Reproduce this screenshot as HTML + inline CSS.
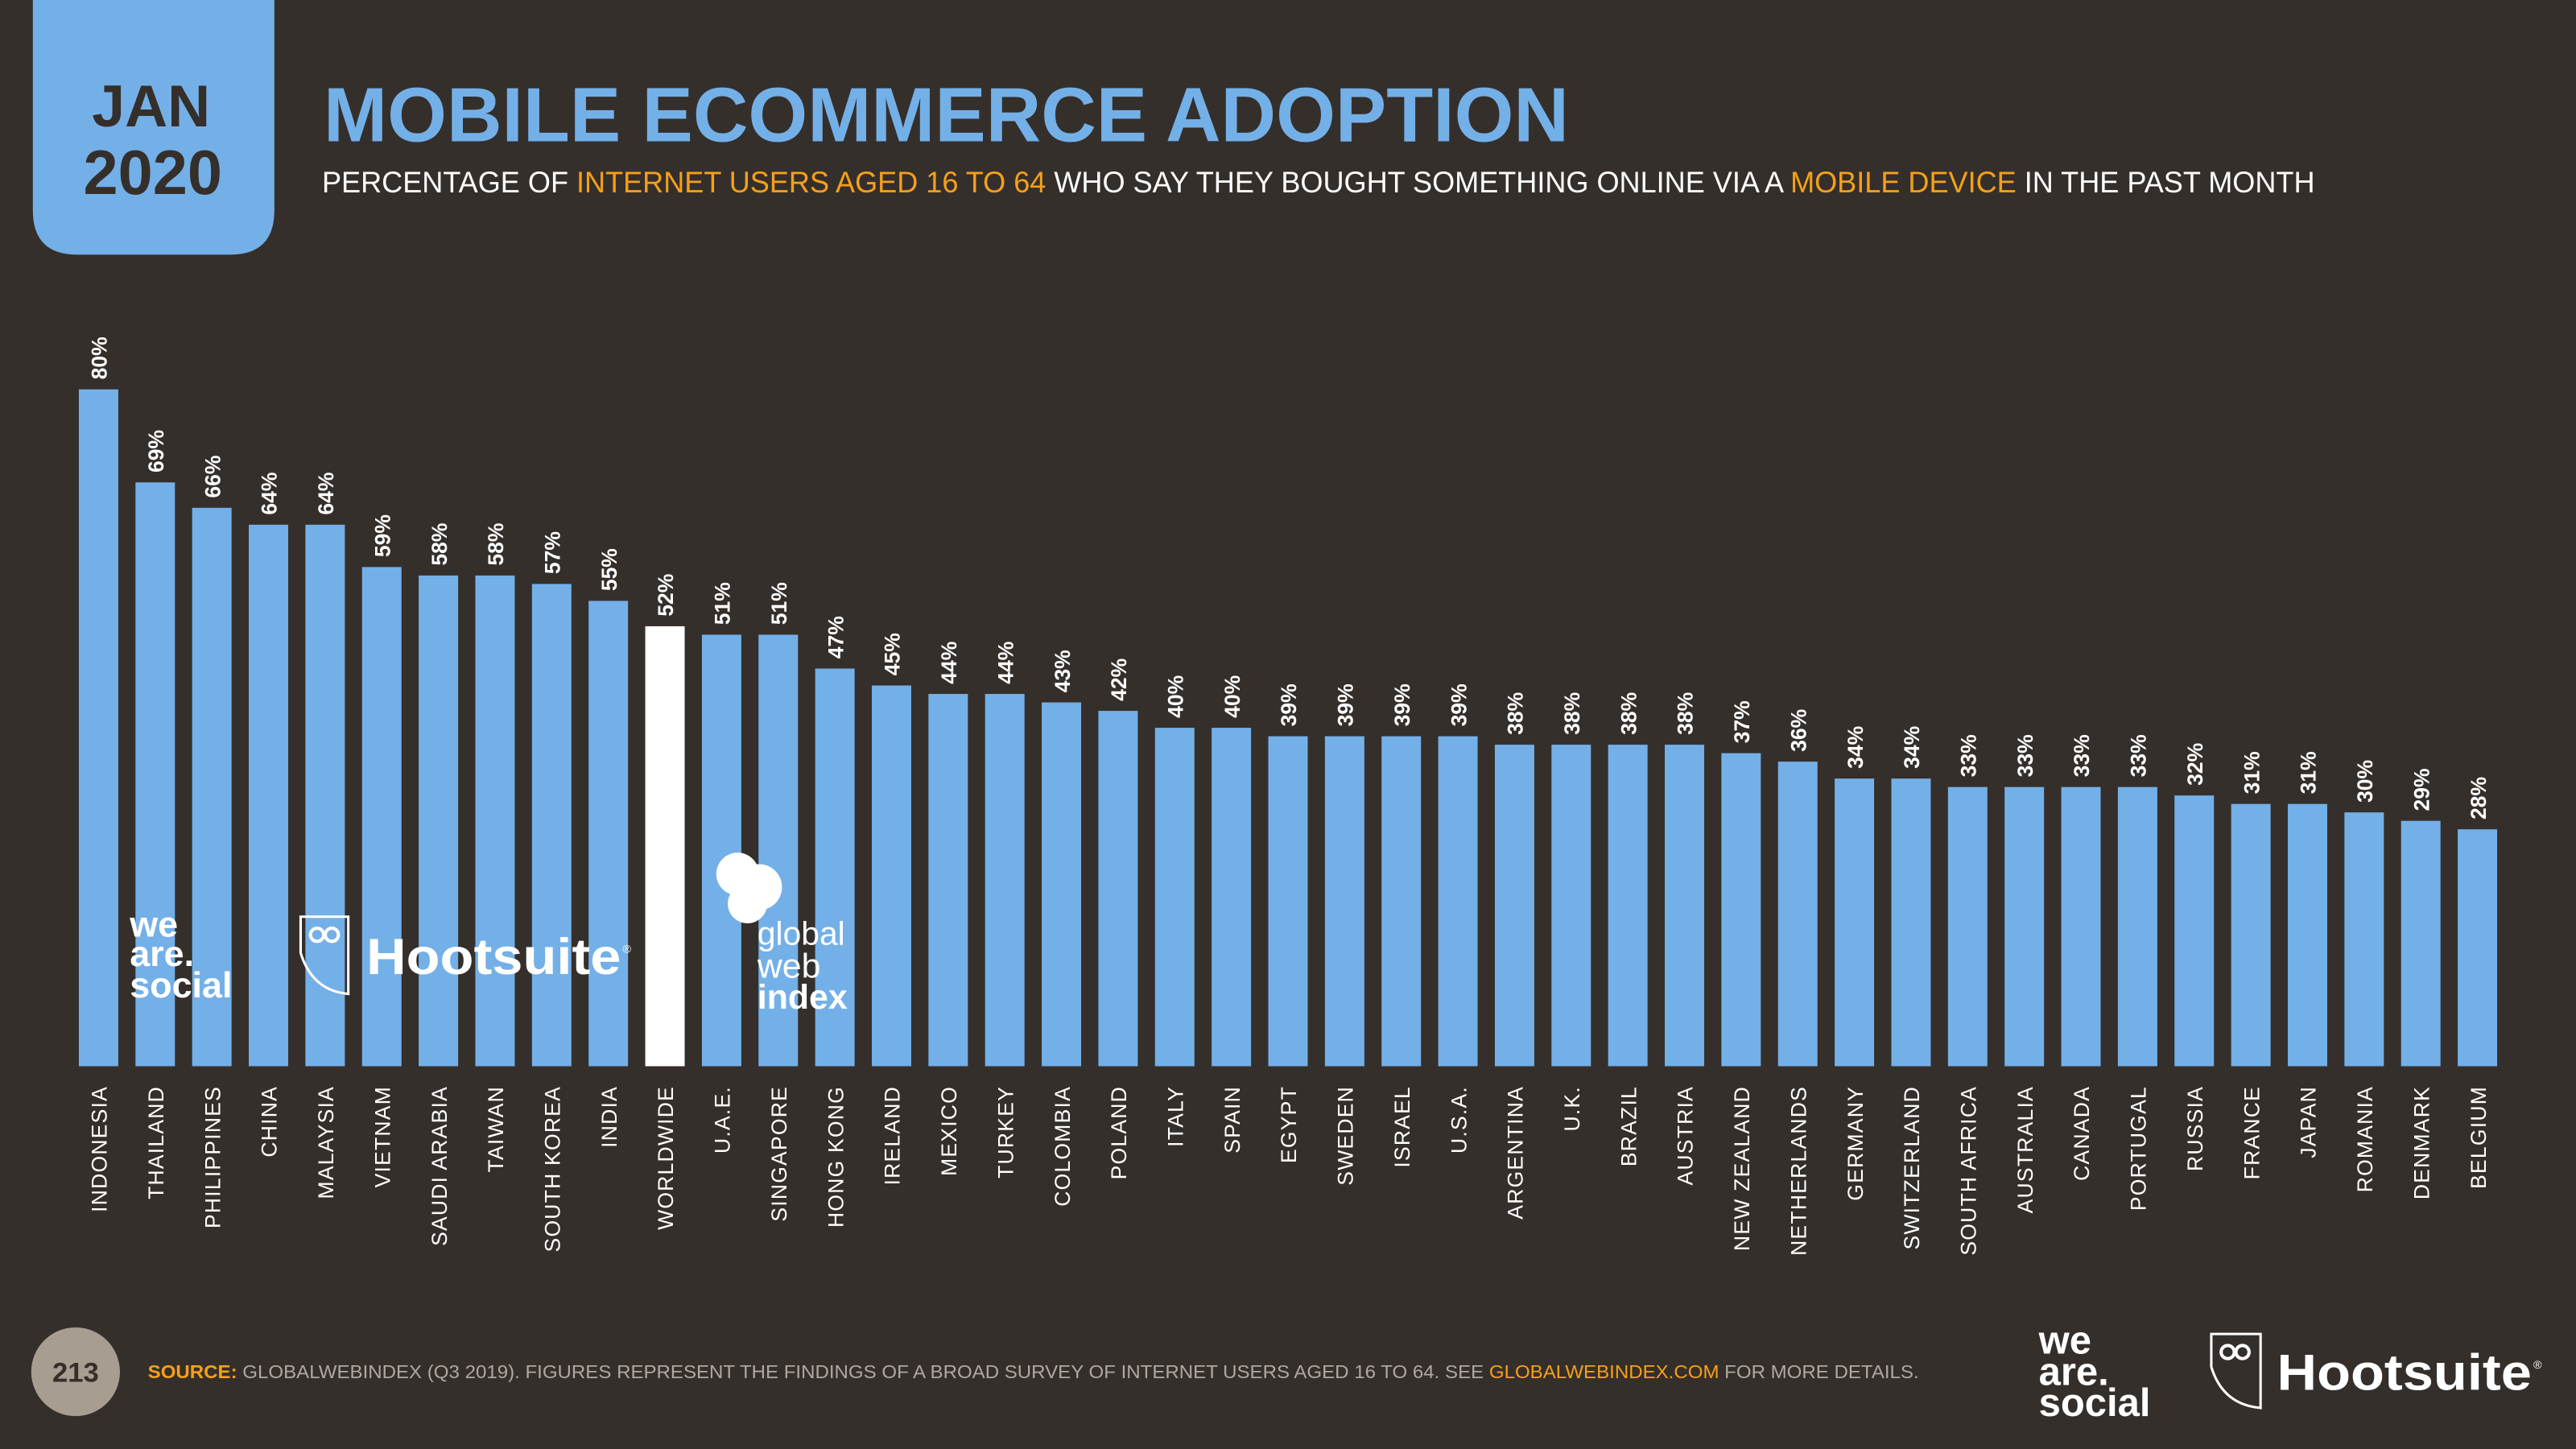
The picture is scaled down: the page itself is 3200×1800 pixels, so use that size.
<!DOCTYPE html>
<html><head><meta charset="utf-8"><style>
html,body{margin:0;padding:0;background:#352f2b;}
svg{display:block}
text{font-family:"Liberation Sans",sans-serif;}
</style></head><body>
<svg id="chart" width="3200" height="1800" viewBox="0 0 1568 882" xmlns="http://www.w3.org/2000/svg">
<rect x="0" y="0" width="1568" height="882" fill="#352f2b"/>
<path d="M20 0 H167 V128 Q167 155 140 155 H47 Q20 155 20 128 Z" fill="#74b0e8"/>
<text x="92" y="77" text-anchor="middle" font-size="36" font-weight="bold" fill="#352f2b">JAN</text>
<text x="93" y="118" text-anchor="middle" font-size="38" font-weight="bold" fill="#352f2b">2020</text>
<text x="197" y="86" font-size="47" font-weight="bold" fill="#74b0e8" textLength="758" lengthAdjust="spacingAndGlyphs">MOBILE ECOMMERCE ADOPTION</text>
<text x="196" y="117" font-size="18" fill="#ffffff" textLength="1213" lengthAdjust="spacingAndGlyphs">PERCENTAGE OF <tspan fill="#f5a01a">INTERNET USERS AGED 16 TO 64</tspan> WHO SAY THEY BOUGHT SOMETHING ONLINE VIA A <tspan fill="#f5a01a">MOBILE DEVICE</tspan> IN THE PAST MONTH</text>
<g id="bars"></g>
<g fill="#fff" font-weight="bold" font-size="22">
<text x="79" y="570">we</text><text x="79" y="588">are.</text><text x="79" y="607">social</text></g>
<g>
<path d="M183 558 L212 558 L212 605 Q190 603 183 580 Z" fill="none" stroke="#fff" stroke-width="1.5"/>
<circle cx="193" cy="569" r="4" fill="none" stroke="#fff" stroke-width="2"/><circle cx="202" cy="569" r="4" fill="none" stroke="#fff" stroke-width="2"/>
<text x="223" y="593" font-size="31" font-weight="bold" fill="#fff" textLength="155" lengthAdjust="spacingAndGlyphs">Hootsuite</text>
<text x="379" y="580" font-size="7" fill="#fff">®</text></g>
<g>
<circle cx="449" cy="532" r="13" fill="#fff"/><circle cx="462" cy="540" r="14" fill="#fff"/><circle cx="455" cy="550" r="12" fill="#fff"/>
<text x="461" y="575" font-size="20" fill="#fff">global</text>
<text x="461" y="595" font-size="21" fill="#fff">web</text>
<text x="461" y="614" font-size="21" font-weight="bold" fill="#fff">index</text></g>
<circle cx="46" cy="835" r="27" fill="#a89d91"/>
<text x="46" y="841" text-anchor="middle" font-size="17" font-weight="bold" fill="#352f2b">213</text>
<text x="90" y="839" font-size="11.5" fill="#b0a89f" textLength="1078" lengthAdjust="spacingAndGlyphs"><tspan fill="#f5a01a" font-weight="bold">SOURCE:</tspan> GLOBALWEBINDEX (Q3 2019). FIGURES REPRESENT THE FINDINGS OF A BROAD SURVEY OF INTERNET USERS AGED 16 TO 64. SEE <tspan fill="#f5a01a">GLOBALWEBINDEX.COM</tspan> FOR MORE DETAILS.</text>
<g fill="#fff" font-weight="bold" font-size="24">
<text x="1241" y="824">we</text><text x="1241" y="843">are.</text><text x="1241" y="862">social</text></g>
<g>
<path d="M1346 812 L1376 812 L1376 857 Q1353 855 1346 832 Z" fill="none" stroke="#fff" stroke-width="1.5"/>
<circle cx="1356" cy="823" r="4" fill="none" stroke="#fff" stroke-width="2"/><circle cx="1365" cy="823" r="4" fill="none" stroke="#fff" stroke-width="2"/>
<text x="1386" y="846" font-size="31" font-weight="bold" fill="#fff" textLength="155" lengthAdjust="spacingAndGlyphs">Hootsuite</text>
<text x="1542" y="833" font-size="7" fill="#fff">®</text></g>
</svg>
<script>
const categories = ["INDONESIA","THAILAND","PHILIPPINES","CHINA","MALAYSIA","VIETNAM","SAUDI ARABIA","TAIWAN","SOUTH KOREA","INDIA","WORLDWIDE","U.A.E.","SINGAPORE","HONG KONG","IRELAND","MEXICO","TURKEY","COLOMBIA","POLAND","ITALY","SPAIN","EGYPT","SWEDEN","ISRAEL","U.S.A.","ARGENTINA","U.K.","BRAZIL","AUSTRIA","NEW ZEALAND","NETHERLANDS","GERMANY","SWITZERLAND","SOUTH AFRICA","AUSTRALIA","CANADA","PORTUGAL","RUSSIA","FRANCE","JAPAN","ROMANIA","DENMARK","BELGIUM"];
const values = [80,69,66,64,64,59,58,58,57,55,52,51,51,47,45,44,44,43,42,40,40,39,39,39,39,38,38,38,38,37,36,34,34,33,33,33,33,32,31,31,30,29,28];
const valueLabels = ["80%","69%","66%","64%","64%","59%","58%","58%","57%","55%","52%","51%","51%","47%","45%","44%","44%","43%","42%","40%","40%","39%","39%","39%","39%","38%","38%","38%","38%","37%","36%","34%","34%","33%","33%","33%","33%","32%","31%","31%","30%","29%","28%"];
const highlight = "WORLDWIDE";
const NS = "http://www.w3.org/2000/svg";
const x0 = 48, pitch = (1496 - 48) / 42, bw = 24, base = 649, perPct = 5.15;
const xScale = i => x0 + i * pitch;
const yScale = v => base - v * perPct;
const g = document.getElementById('bars');
categories.forEach((c, i) => {
  const x = xScale(i), y = yScale(values[i]);
  const r = document.createElementNS(NS, 'rect');
  r.setAttribute('x', x); r.setAttribute('y', y);
  r.setAttribute('width', bw); r.setAttribute('height', base - y);
  r.setAttribute('fill', c === highlight ? '#ffffff' : '#74b0e8');
  
  
  g.appendChild(r);
  const cx = x + bw / 2 + 5;
  const t = document.createElementNS(NS, 'text');
  t.setAttribute('transform', `translate(${cx},${y - 6}) rotate(-90)`);
  t.setAttribute('font-size', '13'); t.setAttribute('font-weight', 'bold');
  t.setAttribute('fill', '#fff'); t.setAttribute('font-family', '"Liberation Serif",serif');
  t.textContent = valueLabels[i];
  
  
  g.appendChild(t);
  const l = document.createElementNS(NS, 'text');
  l.setAttribute('transform', `translate(${cx},661) rotate(-90)`);
  l.setAttribute('text-anchor', 'end');
  l.setAttribute('font-size', '13'); l.setAttribute('letter-spacing', '0.6');
  l.setAttribute('fill', '#fff');
  l.textContent = c;
  
  
  g.appendChild(l);
});
</script>
</body></html>
